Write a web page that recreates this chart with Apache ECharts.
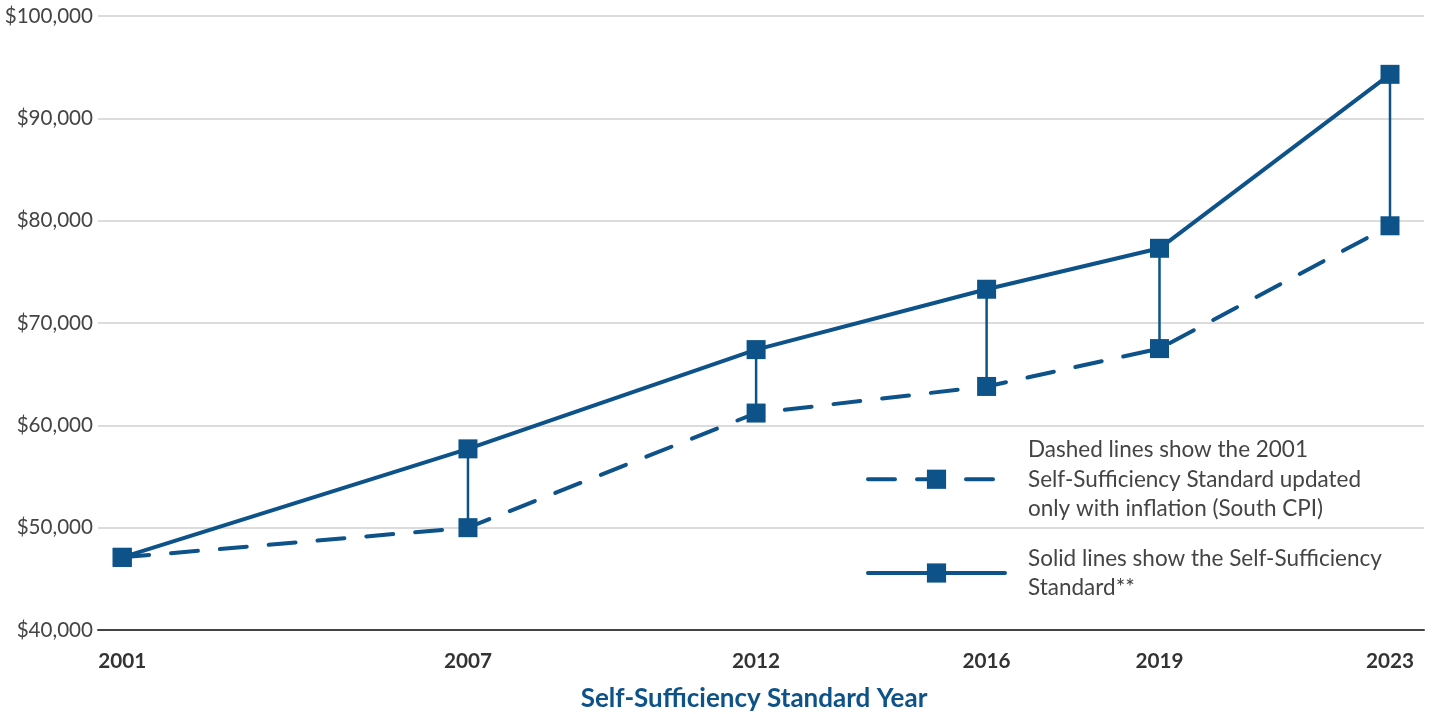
<!DOCTYPE html>
<html>
<head>
<meta charset="utf-8">
<script src="https://cdn.jsdelivr.net/npm/echarts@6/dist/echarts.min.js"></script>
<style>html,body{margin:0;padding:0;background:#fff}#c{width:1435px;height:714px}</style>
</head>
<body>
<div id="c"></div>
<script>
const years = [2001, 2007, 2012, 2016, 2019, 2023];
const standard = [47100, 57700, 67400, 73300, 77300, 94300];
const inflationOnly = [47100, 50000, 61200, 63800, 67500, 79500];
const yTicks = [40000, 50000, 60000, 70000, 80000, 90000, 100000];
const nameSolid = 'Solid lines show the Self-Sufficiency\nStandard**';
const nameDashed = 'Dashed lines show the 2001\nSelf-Sufficiency Standard updated\nonly with inflation (South CPI)';
const axisTitle = 'Self-Sufficiency Standard Year';

const BLUE = '#0d5289';
const FONT = 'Lato';

const connectors = years.map((y, i) => [y, standard[i], inflationOnly[i]]).filter(d => d[1] !== d[2]);

const chart = echarts.init(document.getElementById('c'), null, {renderer: 'canvas'});
chart.setOption({
  animation: false,
  textStyle: {fontFamily: FONT},
  grid: {left: 98, right: 11, top: 16, bottom: 84, containLabel: false, outerBoundsMode: 'none'},
  legend: {
    orient: 'vertical',
    left: 866,
    top: 435,
    padding: 0,
    itemWidth: 137,
    itemHeight: 24,
    itemGap: 20,
    data: [nameDashed, nameSolid],
    lineStyle: {width: 4, cap: 'round'},
    textStyle: {fontFamily: FONT, fontSize: 22.5, color: '#444', lineHeight: 29.5, padding: [0,0,0,18]},
    selectedMode: false
  },
  xAxis: {
    type: 'value',
    min: 2000.58,
    max: 2023.59,
    name: axisTitle,
    nameLocation: 'middle',
    nameGap: 56,
    nameTextStyle: {fontFamily: FONT, fontSize: 26, fontWeight: 'bold', color: BLUE, padding: [0, 14, 0, 0]},
    axisLine: {show: true, lineStyle: {color: '#444', width: 2}},
    axisTick: {show: false},
    splitLine: {show: false},
    axisLabel: {customValues: years, fontFamily: FONT, fontSize: 20.7, fontWeight: 'bold', color: '#333', margin: 21, formatter: v => String(v)}
  },
  yAxis: {
    type: 'value',
    min: yTicks[0],
    max: yTicks[yTicks.length - 1],
    interval: yTicks[1] - yTicks[0],
    axisLine: {show: false},
    axisTick: {show: false},
    splitLine: {lineStyle: {color: '#dcdcdc', width: 2}},
    axisLabel: {fontFamily: FONT, fontSize: 20.6, color: '#444', margin: 5,
      formatter: v => '$' + v.toLocaleString('en-US')}
  },
  series: [
    {
      type: 'custom',
      name: 'connectors',
      z: 1,
      silent: true,
      data: connectors,
      encode: {x: 0, y: [1, 2]},
      renderItem: (params, api) => {
        const p1 = api.coord([api.value(0), api.value(1)]);
        const p2 = api.coord([api.value(0), api.value(2)]);
        return {type: 'line', shape: {x1: p1[0], y1: p1[1], x2: p2[0], y2: p2[1]}, style: {stroke: BLUE, lineWidth: 2.5}};
      }
    },
    {
      name: nameDashed,
      type: 'line',
      z: 2,
      data: years.map((y, i) => [y, inflationOnly[i]]),
      symbol: 'rect',
      symbolSize: 19,
      itemStyle: {color: BLUE},
      lineStyle: {color: BLUE, width: 4, type: [27, 22], cap: 'round'}
    },
    {
      name: nameSolid,
      type: 'line',
      z: 3,
      data: years.map((y, i) => [y, standard[i]]),
      symbol: 'rect',
      symbolSize: 19,
      itemStyle: {color: BLUE},
      lineStyle: {color: BLUE, width: 4}
    }
  ]
});
</script>
</body>
</html>
